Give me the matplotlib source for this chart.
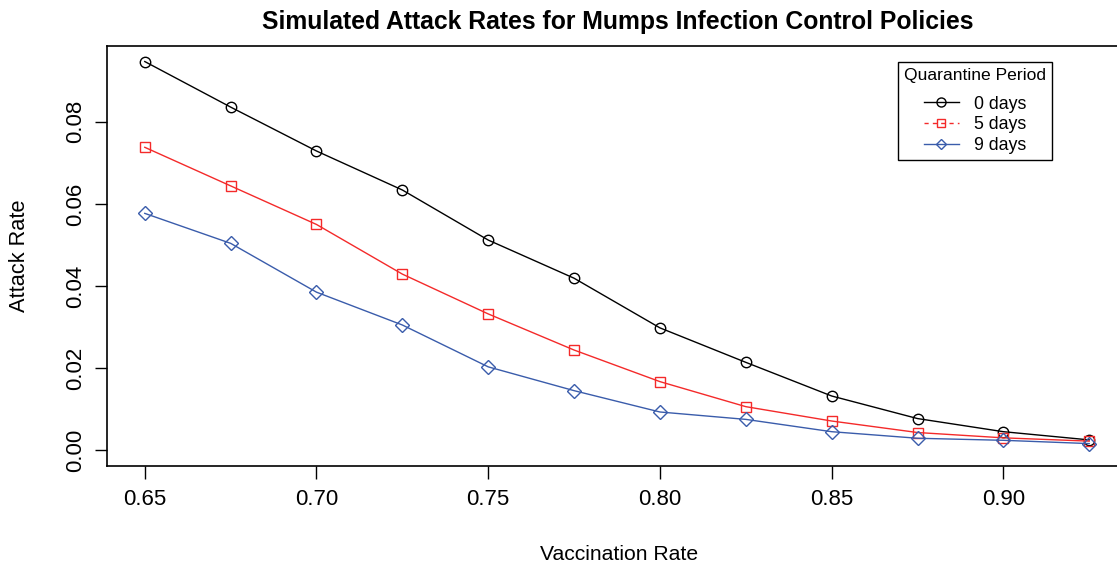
import matplotlib.pyplot as plt
from matplotlib.lines import Line2D

plt.rcParams['font.family'] = ['Liberation Sans', 'DejaVu Sans']

vacc_rate = [0.650, 0.675, 0.700, 0.725, 0.750, 0.775, 0.800, 0.825, 0.850, 0.875, 0.900, 0.925]
attack_0d = [0.0947, 0.0836, 0.0729, 0.0634, 0.0512, 0.0419, 0.0298, 0.0214, 0.0132, 0.0077, 0.0045, 0.0025]
attack_5d = [0.0738, 0.0644, 0.0550, 0.0429, 0.0332, 0.0244, 0.0167, 0.0106, 0.0071, 0.0043, 0.0030, 0.0022]
attack_9d = [0.0577, 0.0504, 0.0385, 0.0305, 0.0203, 0.0145, 0.0093, 0.0075, 0.0045, 0.0029, 0.0024, 0.0016]

x_ticks = [0.65, 0.70, 0.75, 0.80, 0.85, 0.90]
y_ticks = [0.00, 0.02, 0.04, 0.06, 0.08]

col_red = '#f42a2a'
col_blue = '#3a5cab'

fig = plt.figure(figsize=(11.17, 5.65), dpi=100)
ax = fig.add_axes([107 / 1117, 1 - 465.7 / 565, (1127 - 107) / 1117, (465.7 - 46) / 565])

ax.plot(vacc_rate, attack_0d, color='black', lw=1, marker='o', ms=7.5,
        mfc='none', mec='black', mew=1)
ax.plot(vacc_rate, attack_5d, color=col_red, lw=1, marker='s', ms=6.5,
        mfc='none', mec=col_red, mew=1)
ax.plot(vacc_rate, attack_9d, color=col_blue, lw=1, marker='D', ms=7,
        mfc='none', mec=col_blue, mew=1)

# R-style 4% padding on both axes
xr = max(vacc_rate) - min(vacc_rate)
ax.set_xlim(min(vacc_rate) - 0.04 * xr, max(vacc_rate) + 0.04 * xr)
ymax = max(attack_0d)
ax.set_ylim(-0.04 * ymax, ymax * 1.04)

ax.set_xticks(x_ticks)
ax.set_xticklabels([f'{v:.2f}' for v in x_ticks])
ax.set_yticks(y_ticks)
ax.set_yticklabels([f'{v:.2f}' for v in y_ticks], rotation=90, va='center')
ax.tick_params(direction='out', length=9, width=1, labelsize=16, pad=6)
ax.tick_params(axis='x', pad=8)
for s in ax.spines.values():
    s.set_linewidth(1.2)

fig.text(618 / 1117, 1 - 22 / 565, 'Simulated Attack Rates for Mumps Infection Control Policies',
         ha='center', va='center', fontsize=17.8, fontweight='bold')
fig.text(619 / 1117, 1 - 555 / 565, 'Vaccination Rate', ha='center', va='center', fontsize=15.2)
fig.text(20 / 1117, 1 - 256 / 565, 'Attack Rate', ha='center', va='center', fontsize=15.7, rotation=90)

handles = [
    Line2D([], [], color='black', lw=1, marker='o', ms=6.5, mfc='none', mec='black'),
    Line2D([], [], color=col_red, lw=1, ls=(0, (3, 3)), marker='s', ms=6, mfc='none', mec=col_red),
    Line2D([], [], color=col_blue, lw=1, marker='D', ms=5.5, mfc='none', mec=col_blue),
]
leg = ax.legend(handles, ['0 days', '5 days', '9 days'], title='Quarantine Period',
                loc='upper left', bbox_to_anchor=(898 / 1117, 1 - 62 / 565),
                bbox_transform=fig.transFigure, borderaxespad=0, fontsize=12.8,
                title_fontsize=12.6, fancybox=False, edgecolor='black',
                framealpha=1, handlelength=2.0, labelspacing=0.2, borderpad=0.35,
                handletextpad=0.85)
leg.get_frame().set_linewidth(1)
leg._legend_box.sep = 9

fig.savefig('out.png', dpi=100)
